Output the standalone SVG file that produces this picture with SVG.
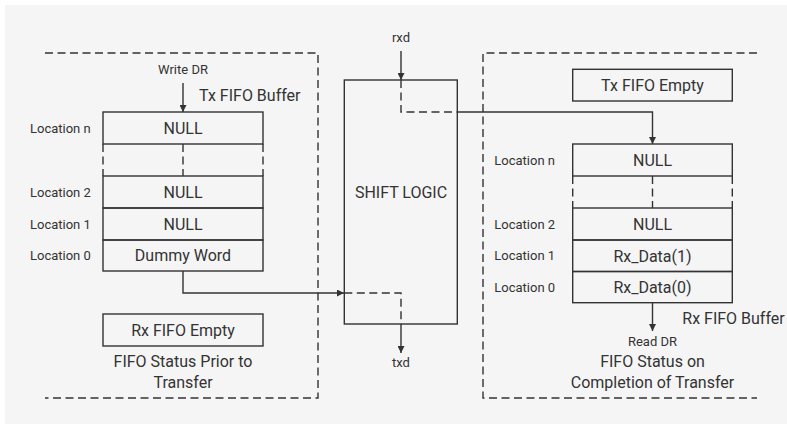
<svg xmlns="http://www.w3.org/2000/svg" width="787" height="425" viewBox="0 0 787 425">
<style>
.bg{fill:#f5f5f5}
.box{fill:none;stroke:#333;stroke-width:1.4}
.dash{fill:none;stroke:#333;stroke-width:1.4;stroke-dasharray:8 4.5}
.ln{fill:none;stroke:#333;stroke-width:1.4}
.t{font-family:Roboto,"Liberation Sans",sans-serif;fill:#333}
.big{font-size:16px;text-anchor:middle}
.bigl{font-size:16px}
.sm{font-size:13px}
.smc{font-size:13px;text-anchor:middle}
</style>
<defs>
<marker id="arr" viewBox="0 0 10 10" refX="10" refY="5" markerWidth="7" markerHeight="7" markerUnits="userSpaceOnUse" orient="auto">
<path d="M0,0 L10,5 L0,10 z" fill="#333"/>
</marker>
</defs>
<rect class="bg" x="5" y="5" width="782" height="419"/>

<g id="left-frame">
<path class="dash" d="M45 53 H318 V398 H45"/>
</g>
<g id="right-frame">
<path class="dash" d="M757 53 H483 V398 H757"/>
</g>

<g id="tx-fifo-buffer">
<text class="t bigl" x="199" y="101">Tx FIFO Buffer</text>
<rect class="box" x="103" y="112" width="160" height="32"/>
<text class="t big" x="183" y="133.7">NULL</text>
<path class="dash" d="M103 144 V176 M183 144 V176 M263 144 V176"/>
<rect class="box" x="103" y="176" width="160" height="32"/>
<text class="t big" x="183" y="197.7">NULL</text>
<rect class="box" x="103" y="208" width="160" height="32"/>
<text class="t big" x="183" y="229.7">NULL</text>
<rect class="box" x="103" y="240" width="160" height="31"/>
<text class="t big" x="183" y="261.2">Dummy Word</text>
<text class="t sm" x="30" y="132.6">Location n</text>
<text class="t sm" x="30" y="196.6">Location 2</text>
<text class="t sm" x="30" y="228.6">Location 1</text>
<text class="t sm" x="30" y="260.1">Location 0</text>
</g>

<g id="rx-fifo-empty">
<rect class="box" x="103" y="314" width="160" height="32"/>
<text class="t big" x="183" y="335.7">Rx FIFO Empty</text>
</g>
<g id="left-caption">
<text class="t big" x="183" y="367">FIFO Status Prior to</text>
<text class="t big" x="183" y="387.5">Transfer</text>
</g>

<g id="shift-logic">
<rect class="box" x="344.3" y="80" width="113" height="244"/>
<text class="t big" x="401" y="198">SHIFT LOGIC</text>
</g>

<g id="tx-fifo-empty">
<rect class="box" x="572.7" y="69.3" width="159.6" height="31.7"/>
<text class="t big" x="652.5" y="91">Tx FIFO Empty</text>
</g>

<g id="rx-fifo-buffer">
<rect class="box" x="572.7" y="144" width="159.6" height="32"/>
<text class="t big" x="652.5" y="165.7">NULL</text>
<path class="dash" d="M572.7 176 V208 M652.5 176 V208 M732.3 176 V208"/>
<rect class="box" x="572.7" y="208" width="159.6" height="32"/>
<text class="t big" x="652.5" y="229.7">NULL</text>
<rect class="box" x="572.7" y="240" width="159.6" height="31.5"/>
<text class="t big" x="652.5" y="261.5">Rx_Data(1)</text>
<rect class="box" x="572.7" y="271.5" width="159.6" height="31.2"/>
<text class="t big" x="652.5" y="293">Rx_Data(0)</text>
<text class="t sm" x="494.3" y="164.6">Location n</text>
<text class="t sm" x="494.3" y="228.6">Location 2</text>
<text class="t sm" x="494.3" y="260.3">Location 1</text>
<text class="t sm" x="494.3" y="291.8">Location 0</text>
<text class="t bigl" x="682.3" y="324.3">Rx FIFO Buffer</text>
</g>
<g id="right-caption">
<text class="t big" x="652.5" y="367.3">FIFO Status on</text>
<text class="t big" x="652.5" y="387.5">Completion of Transfer</text>
</g>

<g id="labels">
<text class="t smc" x="183" y="74">Write DR</text>
<text class="t smc" x="401" y="41.7">rxd</text>
<text class="t smc" x="401" y="366.7">txd</text>
<text class="t smc" x="652.5" y="345.7">Read DR</text>
</g>

<g id="connectors">
<path class="ln" d="M183 83 V112" marker-end="url(#arr)"/>
<path class="ln" d="M183 271 V293 H344" marker-end="url(#arr)"/>
<path class="dash" d="M344.3 293 H401 V324"/>
<path class="ln" d="M401 324 V353" marker-end="url(#arr)"/>
<path class="ln" d="M401 51 V80" marker-end="url(#arr)"/>
<path class="dash" d="M401 80 V112 H457.3"/>
<path class="ln" d="M457.3 112 H652.5 V144" marker-end="url(#arr)"/>
<path class="ln" d="M652.5 302.7 V331" marker-end="url(#arr)"/>
</g>
</svg>
